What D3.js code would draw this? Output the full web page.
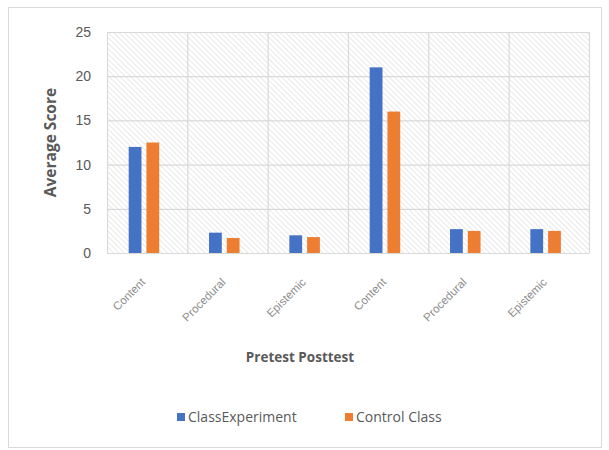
<!DOCTYPE html>
<html>
<head>
<meta charset="utf-8">
<script src="https://cdn.jsdelivr.net/npm/d3@7/dist/d3.min.js"></script>
<style>
  html, body { margin: 0; padding: 0; background: #fff; }
  svg { display: block; font-family: "Open Sans", "Noto Sans", sans-serif; }
</style>
</head>
<body>
<svg id="chart" width="609" height="450"></svg>
<script>
// Categories along the x axis (pretest block, then posttest block)
const categories = ["Content", "Procedural", "Epistemic", "Content", "Procedural", "Epistemic"];
const seriesNames = ["ClassExperiment", "Control Class"];
const classExperiment = [12, 2.3, 2.0, 21, 2.7, 2.7];
const controlClass = [12.5, 1.7, 1.8, 16, 2.5, 2.5];
const yTicks = [0, 5, 10, 15, 20, 25];
const colors = ["#4472C4", "#ED7D31"];

const svg = d3.select("#chart");
const margin = { top: 32, left: 107 };
const plotW = 589 - margin.left;
const plotH = 253 - margin.top;

// outer chart frame
svg.append("rect")
  .attr("x", 8.5).attr("y", 7.5)
  .attr("width", 593).attr("height", 440)
  .attr("fill", "#fff").attr("stroke", "#d9d9d9");

// diagonal hatch for the plot background
const defs = svg.append("defs");
const pat = defs.append("pattern")
  .attr("id", "hatch")
  .attr("patternUnits", "userSpaceOnUse")
  .attr("width", 3.8).attr("height", 3.8)
  .attr("patternTransform", "rotate(-45)");
pat.append("line")
  .attr("x1", 0).attr("y1", 0).attr("x2", 0).attr("y2", 3.8)
  .attr("stroke", "#dedede").attr("stroke-width", 1.3);

const g = svg.append("g").attr("transform", `translate(${margin.left},${margin.top})`);

const x = d3.scaleBand()
  .domain(d3.range(categories.length))
  .range([0, plotW]);
const sub = d3.scaleBand()
  .domain(seriesNames)
  .range([x.bandwidth() * 0.27, x.bandwidth() * 0.65])
  .paddingInner(0.28);
const y = d3.scaleLinear().domain([0, 25]).range([plotH, 0]);

g.append("rect")
  .attr("width", plotW).attr("height", plotH)
  .attr("fill", "url(#hatch)");

// horizontal gridlines
g.append("g")
  .selectAll("line")
  .data(yTicks)
  .join("line")
  .attr("x1", 0).attr("x2", plotW)
  .attr("y1", d => y(d) + 0.5).attr("y2", d => y(d) + 0.5)
  .attr("stroke", "#d9d9d9").attr("stroke-width", 1.2);

// vertical gridlines at category boundaries
g.append("g")
  .selectAll("line")
  .data(d3.range(categories.length + 1))
  .join("line")
  .attr("x1", d => d * x.step() + 0.5).attr("x2", d => d * x.step() + 0.5)
  .attr("y1", 0).attr("y2", plotH)
  .attr("stroke", "#d9d9d9").attr("stroke-width", 1.2);

// bars
const seriesData = [classExperiment, controlClass];
seriesData.forEach((vals, si) => {
  g.append("g")
    .selectAll("rect")
    .data(vals)
    .join("rect")
    .attr("x", (d, i) => x(i) + sub(seriesNames[si]))
    .attr("width", sub.bandwidth())
    .attr("y", d => y(d))
    .attr("height", d => y(0) - y(d))
    .attr("fill", colors[si]);
});

// y axis labels
const yAxis = d3.axisLeft(y).tickValues(yTicks).tickSize(0).tickPadding(16);
const yg = g.append("g").call(yAxis);
yg.select(".domain").remove();
yg.selectAll("text")
  .attr("fill", "#595959")
  .style("font-size", "14px");

// x axis line and rotated labels
const xAxis = d3.axisBottom(x).tickSize(0).tickFormat(i => categories[i]);
const xg = g.append("g").attr("transform", `translate(0,${plotH})`).call(xAxis);
xg.select(".domain").attr("stroke", "#d9d9d9");
xg.selectAll("text")
  .attr("fill", "#8c8c8c")
  .style("font-size", "11.5px")
  .attr("text-anchor", "end")
  .attr("x", 0).attr("y", 0)
  .attr("dy", "0.35em")
  .attr("transform", "translate(-4,27) rotate(-45)");

// axis titles
svg.append("text")
  .attr("transform", `translate(56,${margin.top + plotH / 2}) rotate(-90)`)
  .attr("text-anchor", "middle")
  .attr("fill", "#595959")
  .style("font-size", "15.5px")
  .style("font-weight", "bold")
  .text("Average Score");

svg.append("text")
  .attr("x", 300).attr("y", 362)
  .attr("text-anchor", "middle")
  .attr("fill", "#595959")
  .style("font-size", "13.5px")
  .style("font-weight", "bold")
  .text("Pretest Posttest");

// legend
const legendX = [177, 345];
const legend = svg.append("g");
seriesNames.forEach((name, i) => {
  legend.append("rect")
    .attr("x", legendX[i]).attr("y", 413)
    .attr("width", 8).attr("height", 8)
    .attr("fill", colors[i]);
  legend.append("text")
    .attr("x", legendX[i] + 11).attr("y", 422)
    .attr("fill", "#595959")
    .style("font-size", "14px")
    .text(name);
});
</script>
</body>
</html>
